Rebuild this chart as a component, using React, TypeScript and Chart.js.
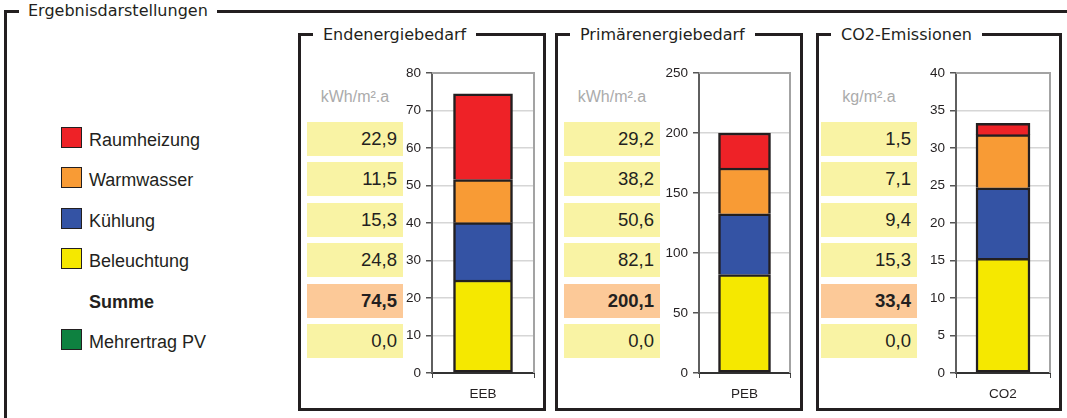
import React, { useEffect, useRef } from "react";
import { Chart, registerables } from "chart.js";

Chart.register(...registerables);

// Energy components, listed top-down as in the value table
const categories = ["Raumheizung", "Warmwasser", "Kühlung", "Beleuchtung"];
const eebValues = [22.9, 11.5, 15.3, 24.8];
const pebValues = [29.2, 38.2, 50.6, 82.1];
const co2Values = [1.5, 7.1, 9.4, 15.3];
const sumValues = [74.5, 200.1, 33.4];
const pvValues = [0.0, 0.0, 0.0];

const panelTitles = ["Endenergiebedarf", "Primärenergiebedarf", "CO2-Emissionen"];
const unitLabels = ["kWh/m².a", "kWh/m².a", "kg/m².a"];
const barLabels = ["EEB", "PEB", "CO2"];
const axisMax = [80, 250, 40];
const axisStep = [10, 50, 5];

const sumLabel = "Summe";
const pvLabel = "Mehrertrag PV";
const frameTitle = "Ergebnisdarstellungen";

const segmentColors = ["#ee2227", "#f89b35", "#3453a4", "#f5e800"];
const pvColor = "#0e8140";
const ink = "#231f20";
const boxYellow = "#f9f3a4";
const boxPeach = "#fcc998";

const titleFont = "'DejaVu Sans', Verdana, sans-serif";
const bodyFont = "'Liberation Sans', Arial, Helvetica, sans-serif";

const fmt = (v: number) => v.toFixed(1).replace(".", ",");

const ROW_TOP = 122;
const ROW_PITCH = 40.4;
const ROW_H = 34;

type BarProps = {
  values: number[];
  label: string;
  max: number;
  step: number;
  left: number;
  width: number;
  axisWidth: number;
  barWidth: number;
};

const plotFrame = {
  id: "plotFrame",
  afterDatasetsDraw(chart: any) {
    const { ctx, chartArea } = chart;
    ctx.save();
    ctx.strokeStyle = "#a3a3a3";
    ctx.lineWidth = 2;
    ctx.beginPath();
    ctx.moveTo(chartArea.left, chartArea.top);
    ctx.lineTo(chartArea.right, chartArea.top);
    ctx.lineTo(chartArea.right, chartArea.bottom);
    ctx.stroke();
    ctx.restore();
  },
};

function StackedBar({ values, label, max, step, left, width, axisWidth, barWidth }: BarProps) {
  const ref = useRef<HTMLCanvasElement>(null);
  useEffect(() => {
    if (!ref.current) return;
    // bottom-up stacking order: last table row sits on the axis
    const order = [3, 2, 1, 0];
    const chart = new Chart(ref.current, {
      type: "bar",
      data: {
        labels: [label],
        datasets: order.map((i) => ({
          label: categories[i],
          data: [values[i]],
          backgroundColor: segmentColors[i],
          borderColor: ink,
          borderWidth: 2.5,
          borderSkipped: i === 3 ? false : "start",
          barThickness: barWidth,
        })),
      },
      options: {
        animation: false,
        responsive: false,
        maintainAspectRatio: false,
        layout: { padding: { top: 13, right: 2, bottom: 0, left: 0 } },
        plugins: { legend: { display: false }, tooltip: { enabled: false } },
        scales: {
          x: {
            stacked: true,
            afterFit: (s: any) => {
              s.height = 40;
            },
            grid: {
              drawOnChartArea: false,
              drawTicks: true,
              tickLength: 5,
              tickColor: "#444",
              offset: true,
            },
            border: { color: "#333", width: 2 },
            ticks: {
              padding: 8,
              color: ink,
              font: { family: bodyFont, size: 13.5 },
            },
          },
          y: {
            stacked: true,
            min: 0,
            max,
            afterFit: (s: any) => {
              s.width = axisWidth;
            },
            ticks: {
              stepSize: step,
              padding: 5,
              color: ink,
              font: { family: bodyFont, size: 13.5 },
            },
            grid: {
              color: "#d6d6d6",
              lineWidth: 1.5,
              tickLength: 6,
              tickColor: "#555",
            },
            border: { color: "#5f5f5f", width: 2 },
          },
        },
      },
      plugins: [plotFrame],
    });
    return () => chart.destroy();
  }, [values, label, max, step, axisWidth, barWidth]);

  return (
    <canvas
      ref={ref}
      width={width}
      height={353}
      style={{ position: "absolute", left, top: 60, width, height: 353 }}
    />
  );
}

type PanelProps = {
  idx: number;
  left: number;
  right: number;
  boxLeft: number;
  values: number[];
  chartLeft: number;
  chartWidth: number;
  axisWidth: number;
  barWidth: number;
};

function Panel({ idx, left, right, boxLeft, values, chartLeft, chartWidth, axisWidth, barWidth }: PanelProps) {
  const boxW = 96;
  const rows = [
    ...values.map((v) => ({ text: fmt(v), bg: boxYellow, bold: false })),
    { text: fmt(sumValues[idx]), bg: boxPeach, bold: true },
    { text: fmt(pvValues[idx]), bg: boxYellow, bold: false },
  ];
  return (
    <>
      <div
        style={{
          position: "absolute",
          left,
          top: 33,
          width: right - left,
          height: 411 - 33,
          border: `3px solid ${ink}`,
          boxSizing: "border-box",
        }}
      />
      <div
        style={{
          position: "absolute",
          left: left + 15,
          top: 25,
          padding: "0 10px",
          background: "#fff",
          fontFamily: titleFont,
          fontSize: 16,
          lineHeight: "20px",
          color: ink,
          whiteSpace: "nowrap",
        }}
      >
        {panelTitles[idx]}
      </div>
      <div
        style={{
          position: "absolute",
          left: boxLeft,
          top: 87,
          width: boxW,
          textAlign: "center",
          fontFamily: bodyFont,
          fontSize: 16,
          lineHeight: "20px",
          color: "#ababab",
        }}
      >
        {unitLabels[idx]}
      </div>
      {rows.map((r, i) => (
        <div
          key={i}
          style={{
            position: "absolute",
            left: boxLeft,
            top: Math.round(ROW_TOP + i * ROW_PITCH),
            width: boxW,
            height: ROW_H,
            background: r.bg,
            boxSizing: "border-box",
            paddingRight: 6,
            textAlign: "right",
            fontFamily: bodyFont,
            fontSize: 18.5,
            fontWeight: r.bold ? "bold" : "normal",
            lineHeight: `${ROW_H}px`,
            color: ink,
          }}
        >
          {r.text}
        </div>
      ))}
      <StackedBar
        values={values}
        label={barLabels[idx]}
        max={axisMax[idx]}
        step={axisStep[idx]}
        left={chartLeft}
        width={chartWidth}
        axisWidth={axisWidth}
        barWidth={barWidth}
      />
    </>
  );
}

export default function App() {
  const legendRows = [
    ...categories.map((c, i) => ({ text: c, color: segmentColors[i] as string | null, bold: false })),
    { text: sumLabel, color: null, bold: true },
    { text: pvLabel, color: pvColor, bold: false },
  ];
  return (
    <div
      style={{
        position: "absolute",
        left: 0,
        top: 0,
        width: 1067,
        height: 418,
        overflow: "hidden",
        background: "#fff",
      }}
    >
      {/* outer group frame */}
      <div
        style={{
          position: "absolute",
          left: 4,
          top: 10,
          width: 1200,
          height: 600,
          border: `3px solid ${ink}`,
          boxSizing: "border-box",
        }}
      />
      <div
        style={{
          position: "absolute",
          left: 19,
          top: 1,
          padding: "0 9px",
          background: "#fff",
          fontFamily: titleFont,
          fontSize: 16,
          lineHeight: "20px",
          color: ink,
        }}
      >
        {frameTitle}
      </div>

      {legendRows.map((r, i) => (
        <div
          key={i}
          style={{
            position: "absolute",
            left: 61,
            top: Math.round(ROW_TOP + i * ROW_PITCH),
            height: ROW_H,
            width: 220,
          }}
        >
          {r.color && (
            <div
              style={{
                position: "absolute",
                left: 0,
                top: 5,
                width: 21,
                height: 21,
                background: r.color,
                border: `1.5px solid ${ink}`,
                boxSizing: "border-box",
              }}
            />
          )}
          <div
            style={{
              position: "absolute",
              left: 28,
              top: 0,
              lineHeight: `${ROW_H + 2}px`,
              fontFamily: bodyFont,
              fontSize: 18,
              fontWeight: r.bold ? "bold" : "normal",
              color: ink,
              whiteSpace: "nowrap",
            }}
          >
            {r.text}
          </div>
        </div>
      ))}

      <Panel idx={0} left={298} right={546} boxLeft={307} values={eebValues} chartLeft={395} chartWidth={141} axisWidth={37} barWidth={59} />
      <Panel idx={1} left={555} right={803} boxLeft={564} values={pebValues} chartLeft={655} chartWidth={137} axisWidth={44} barWidth={52} />
      <Panel idx={2} left={816} right={1062} boxLeft={821} values={co2Values} chartLeft={915} chartWidth={137} axisWidth={41} barWidth={54} />
    </div>
  );
}
